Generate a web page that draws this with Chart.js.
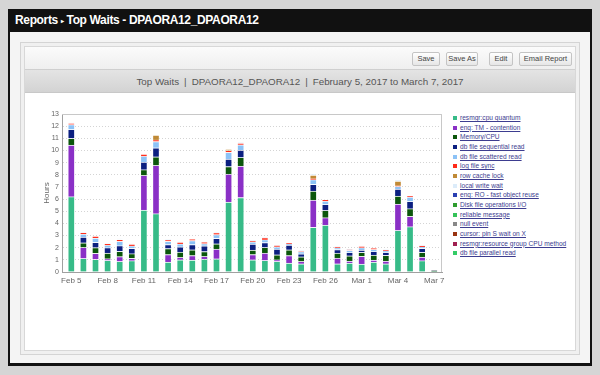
<!DOCTYPE html>
<html>
<head>
<meta charset="utf-8">
<script src="https://cdn.jsdelivr.net/npm/chart.js@4"></script>
<style>
  html, body { margin: 0; padding: 0; }
  body { width: 600px; height: 375px; background: #d5d5d5; position: relative; overflow: hidden; font-family: "Liberation Sans", Arial, sans-serif; }
  .frame { position: absolute; left: 8px; top: 9px; width: 584px; height: 357px; background: #111; }
  .titlebar { position: absolute; left: 0; top: 0; width: 584px; height: 23px; color: #fff; font-weight: bold; font-size: 12px; line-height: 23px; padding-left: 7px; box-sizing: border-box; letter-spacing: -0.35px; }
  .titlebar .sep { font-size: 6px; margin: 0 3px; vertical-align: 1px; }
  .body { position: absolute; left: 2px; top: 23px; width: 580px; height: 331px; background: #f4f4f4; }
  .panel { position: absolute; left: 10px; top: 10px; width: 558px; height: 311px; border: 1px solid #d4d4d4; background: #f0f0f0; }
  .inner { position: absolute; left: 3px; top: 3px; width: 550px; height: 303px; border: 1px solid #d8d8d8; background: #fff; }
  .toolbar { position: absolute; left: 0; top: 0; width: 550px; height: 22px; background: linear-gradient(#fbfbfb, #efefef); }
  .btn { position: absolute; top: 5px; height: 12px; line-height: 12px; font-size: 7.5px; color: #444; text-align: center; border: 1px solid #c4c4c4; border-radius: 2px; background: linear-gradient(#ffffff, #e6e6e6); }
  .band { position: absolute; left: 0; top: 22px; width: 550px; height: 24px; background: linear-gradient(#e4e4e4, #d3d3d3); border-top: 1px solid #cfcfcf; border-bottom: 1px solid #c8c8c8; box-sizing: border-box; text-align: center; font-size: 9.8px; line-height: 23px; color: #555; }
  .band .bar { margin: 0 5px; }
  #chartWrap { position: absolute; left: 30px; top: 106px; width: 420px; height: 184px; }
  #legend { position: absolute; left: 453px; top: 113px; font-size: 6.6px; }
  #legend .item { height: 9.67px; line-height: 9.67px; white-space: nowrap; color: #3d3d90; }
  #legend .sw { display: inline-block; width: 4px; height: 4px; margin-right: 3px; vertical-align: 0px; }
  #legend .txt { text-decoration: underline; }
</style>
</head>
<body>
<div class="frame">
  <div class="titlebar">Reports<span class="sep">&#9656;</span>Top Waits - DPAORA12_DPAORA12</div>
  <div class="body">
    <div class="panel">
      <div class="inner">
        <div class="toolbar">
          <div class="btn" style="left:387px;width:26px;">Save</div>
          <div class="btn" style="left:421px;width:30px;">Save As</div>
          <div class="btn" style="left:464px;width:22px;">Edit</div>
          <div class="btn" style="left:494px;width:51px;">Email Report</div>
        </div>
        <div class="band">Top Waits<span class="bar">|</span>DPAORA12_DPAORA12<span class="bar">|</span>February 5, 2017 to March 7, 2017</div>
      </div>
    </div>
  </div>
</div>
<div id="chartWrap"><canvas id="waitsChart"></canvas></div>
<div id="legend"></div>
<script>
// Dias do relatório (Feb 5 .. Mar 7)
const days = ['Feb 5', 'Feb 6', 'Feb 7', 'Feb 8', 'Feb 9', 'Feb 10', 'Feb 11', 'Feb 12', 'Feb 13', 'Feb 14',
  'Feb 15', 'Feb 16', 'Feb 17', 'Feb 18', 'Feb 19', 'Feb 20', 'Feb 21', 'Feb 22', 'Feb 23', 'Feb 24',
  'Feb 25', 'Feb 26', 'Feb 27', 'Feb 28', 'Mar 1', 'Mar 2', 'Mar 3', 'Mar 4', 'Mar 5', 'Mar 6', 'Mar 7'];

const waitNames = ['resmgr:cpu quantum', 'enq: TM - contention', 'Memory/CPU', 'db file sequential read',
  'db file scattered read', 'log file sync', 'row cache lock', 'local write wait', 'enq: RO - fast object reuse',
  'Disk file operations I/O', 'reliable message', 'null event', 'cursor: pin S wait on X',
  'resmgr:resource group CPU method', 'db file parallel read'];

// horas por dia, uma lista por evento de espera
const cpuQuantum = [6.2, 1.12, 1.04, 0.95, 0.87, 0.93, 5.1, 4.8, 0.82, 1.0, 0.98, 1.06, 1.09, 5.75, 6.13, 1.0,
  0.95, 0.87, 0.74, 0.68, 3.68, 3.87, 0.68, 0.74, 0.66, 0.82, 0.68, 3.42, 3.73, 0.93, 0.04];
const enqTm = [4.25, 0.9, 0.5, 0.15, 0.4, 0.2, 2.85, 3.97, 0.62, 0.2, 0.38, 0.22, 0.79, 2.3, 2.59, 0.44,
  0.6, 0.13, 0.62, 0.19, 2.23, 0.6, 0.46, 0.16, 0.63, 0.17, 0.22, 2.17, 0.85, 0.3, 0];
const memoryCpu = [0.55, 0.38, 0.47, 0.46, 0.44, 0.38, 0.47, 0.71, 0.49, 0.43, 0.47, 0.41, 0.44, 0.63, 0.71, 0.36,
  0.47, 0.42, 0.47, 0.38, 0.74, 0.6, 0.41, 0.44, 0.33, 0.41, 0.47, 0.66, 0.63, 0.39, 0.02];
const seqRead = [0.73, 0.48, 0.43, 0.44, 0.46, 0.44, 0.62, 0.74, 0.33, 0.44, 0.43, 0.46, 0.46, 0.62, 0.6, 0.49,
  0.41, 0.46, 0.38, 0.25, 0.57, 0.49, 0.3, 0.28, 0.19, 0.3, 0.25, 0.57, 0.6, 0.33, 0];
const scatteredRead = [0.4, 0.23, 0.35, 0.21, 0.35, 0.2, 0.5, 0.52, 0.27, 0.24, 0.33, 0.19, 0.3, 0.55, 0.43, 0.19,
  0.24, 0.19, 0.08, 0.19, 0.38, 0.27, 0.14, 0.16, 0.19, 0.16, 0.13, 0.22, 0.35, 0.13, 0.03];
const logFileSync = [0.1, 0.14, 0.17, 0.14, 0.17, 0.13, 0.15, 0.13, 0.11, 0.14, 0.13, 0.11, 0.16, 0.14, 0.14, 0.08,
  0.16, 0.11, 0.11, 0.04, 0.08, 0.14, 0.08, 0.05, 0.11, 0.11, 0.05, 0.05, 0.11, 0.08, 0];
const rowCacheLock = [0, 0, 0, 0, 0, 0, 0, 0.4, 0, 0, 0, 0, 0, 0.1, 0, 0,
  0, 0, 0, 0, 0.3, 0, 0, 0, 0, 0, 0, 0.4, 0, 0, 0];
const localWriteWait = [0.05, 0.03, 0, 0.03, 0.03, 0.03, 0, 0, 0.03, 0.03, 0, 0.03, 0.03, 0, 0.04, 0.03,
  0.03, 0.03, 0, 0.03, 0.06, 0, 0.03, 0.03, 0.03, 0, 0.03, 0.06, 0, 0.03, 0];
const enqRo = [0, 0, 0, 0, 0, 0, 0, 0, 0, 0, 0, 0, 0, 0, 0, 0, 0, 0, 0, 0, 0, 0, 0, 0, 0, 0, 0, 0, 0, 0, 0];
const diskFileOps = [0, 0, 0, 0, 0, 0, 0, 0, 0, 0, 0, 0, 0, 0, 0, 0, 0, 0, 0, 0, 0, 0, 0, 0, 0, 0, 0, 0, 0, 0, 0];
const reliableMessage = [0, 0, 0, 0, 0, 0, 0, 0, 0, 0, 0, 0, 0, 0, 0, 0, 0, 0, 0, 0, 0, 0, 0, 0, 0, 0, 0, 0, 0, 0, 0];
const nullEvent = [0, 0, 0, 0, 0, 0, 0, 0, 0, 0, 0, 0, 0, 0, 0, 0, 0, 0, 0, 0, 0, 0, 0, 0, 0, 0, 0, 0, 0, 0, 0.06];
const cursorPinS = [0, 0, 0, 0, 0, 0, 0, 0, 0, 0, 0, 0, 0, 0, 0, 0, 0, 0, 0, 0, 0, 0, 0, 0, 0, 0, 0, 0, 0, 0, 0];
const resourceGroupCpu = [0, 0, 0, 0, 0, 0, 0, 0, 0, 0, 0, 0, 0, 0, 0, 0, 0, 0, 0, 0, 0, 0, 0, 0, 0, 0, 0, 0, 0, 0, 0];
const parallelRead = [0, 0, 0, 0, 0, 0, 0, 0, 0, 0, 0, 0, 0, 0, 0, 0, 0, 0, 0, 0, 0, 0, 0, 0, 0, 0, 0, 0, 0, 0, 0];

const yTicks = [0, 1, 2, 3, 4, 5, 6, 7, 8, 9, 10, 11, 12, 13];
const xTickDays = [0, 3, 6, 9, 12, 15, 18, 21, 24, 27, 30];

const seriesValues = [cpuQuantum, enqTm, memoryCpu, seqRead, scatteredRead, logFileSync, rowCacheLock,
  localWriteWait, enqRo, diskFileOps, reliableMessage, nullEvent, cursorPinS, resourceGroupCpu, parallelRead];

const seriesColors = ['#37bb88', '#8a30c6', '#0b560b', '#0b1f80', '#8cc2f6', '#ff2a18', '#c08a36',
  '#dcecfa', '#2a3fb2', '#2e9c2e', '#34c258', '#888888', '#993311', '#a02050', '#33cc66'];

// legenda em HTML (links sublinhados como no relatório)
const legendEl = document.getElementById('legend');
waitNames.forEach((name, i) => {
  const item = document.createElement('div');
  item.className = 'item';
  item.innerHTML = '<span class="sw" style="background:' + seriesColors[i] + '"></span><span class="txt">' + name + '</span>';
  legendEl.appendChild(item);
});

// moldura do gráfico (topo e direita)
const plotBox = {
  id: 'plotBox',
  afterDraw(chart) {
    const a = chart.chartArea;
    const ctx = chart.ctx;
    ctx.save();
    ctx.strokeStyle = '#c8c8c8';
    ctx.lineWidth = 1;
    ctx.beginPath();
    ctx.moveTo(a.left, a.top + 0.5);
    ctx.lineTo(a.right - 0.5, a.top + 0.5);
    ctx.lineTo(a.right - 0.5, a.bottom);
    ctx.stroke();
    ctx.restore();
  }
};

const ctx = document.getElementById('waitsChart').getContext('2d');
new Chart(ctx, {
  type: 'bar',
  data: {
    datasets: waitNames.map((name, i) => ({
      label: name,
      data: seriesValues[i].map((v, d) => ({ x: d, y: v })),
      backgroundColor: seriesColors[i],
      borderColor: 'rgba(255,255,255,0.45)',
      borderWidth: 1,
      barThickness: 7
    }))
  },
  options: {
    responsive: true,
    maintainAspectRatio: false,
    animation: false,
    layout: { padding: { left: 8, right: 8, top: 8, bottom: 0 } },
    plugins: {
      legend: { display: false },
      tooltip: { enabled: false }
    },
    scales: {
      x: {
        type: 'linear',
        stacked: true,
        offset: false,
        min: -0.77,
        max: 30.64,
        grid: { display: false, drawTicks: false, offset: false },
        border: { display: true, color: '#a0a0a0' },
        afterBuildTicks(scale) {
          scale.ticks = xTickDays.map(v => ({ value: v }));
        },
        afterFit(scale) { scale.height = 18; },
        ticks: {
          padding: 4,
          autoSkip: false,
          maxRotation: 0,
          color: '#666',
          font: { family: 'Liberation Sans', size: 8 },
          callback: v => days[v]
        }
      },
      y: {
        stacked: true,
        min: 0,
        max: 13,
        afterBuildTicks(scale) {
          scale.ticks = yTicks.map(v => ({ value: v }));
        },
        afterFit(scale) { scale.width = 24; },
        grid: { color: '#d4d4d4', drawTicks: false, tickBorderDash: [1, 2] },
        border: { display: true, color: '#a0a0a0', dash: [1, 2] },
        ticks: {
          padding: 3,
          color: '#666',
          font: { family: 'Liberation Sans', size: 7 }
        },
        title: {
          display: true,
          text: 'Hours',
          color: '#666',
          font: { family: 'Liberation Sans', size: 8 }
        }
      }
    }
  },
  plugins: [plotBox]
});
</script>
</body>
</html>
